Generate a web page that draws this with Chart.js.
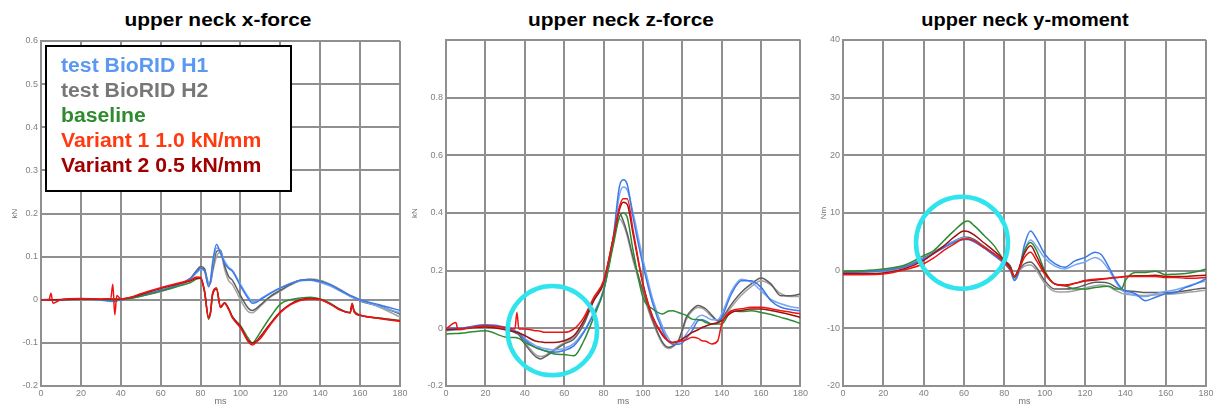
<!DOCTYPE html>
<html>
<head>
<meta charset="utf-8">
<title>upper neck loads</title>
<script src="https://cdn.jsdelivr.net/npm/chart.js@4.4.1/dist/chart.umd.min.js"></script>
<style>
    body { margin: 0; background: #fff; width: 1217px; height: 407px; overflow: hidden; font-family: 'Liberation Sans', Arial, sans-serif; }
    canvas { position: absolute; top: 0; }
    .title { position: absolute; top: 10px; font-weight: bold; font-size: 19px; line-height: 19px; white-space: nowrap; color: #000; transform: translateX(-50%) scaleX(1.1); }
    .legend-box { position: absolute; left: 45px; top: 45px; width: 247px; height: 147px; box-sizing: border-box; border: 2px solid #000; background: #fff; padding: 6px 0 0 14px; }
    .legend-box span { display: block; font-weight: bold; font-size: 20px; line-height: 25px; white-space: nowrap; transform: scaleX(1.06); transform-origin: left center; }
</style>
</head>
<body>
<div class="title" style="left:218px">upper neck x-force</div>
<div class="title" style="left:621px">upper neck z-force</div>
<div class="title" style="left:1025px; transform: translateX(-50%) scaleX(1.05)">upper neck y-moment</div>

<canvas id="xForceChart" width="410" height="407" style="left:0px"></canvas>
<canvas id="zForceChart" width="405" height="407" style="left:405px"></canvas>
<canvas id="yMomentChart" width="407" height="407" style="left:810px"></canvas>

<div class="legend-box" id="legendBox"></div>

<script>
// group names / colours
const groupNames = ['test BioRID H1', 'test BioRID H2', 'baseline', 'Variant 1 1.0 kN/mm', 'Variant 2 0.5 kN/mm'];
const groupColors = ['#5a98f2', '#777777', '#2e8b2e', '#ff3a10', '#a00000'];

// ---- upper neck x-force (kN) ----
const timeX = [0, 4, 5, 6, 10, 20, 30, 35, 36, 37, 38, 40, 45, 50, 60, 70, 75, 78, 80, 82, 84, 85, 86, 88, 90, 92, 94, 96, 100, 104, 106, 108, 110, 115, 120, 125, 130, 135, 140, 145, 150, 155, 156, 157, 160, 170, 180];
const xfH1a = [0, 0, 0, 0, 0, 0.002, 0, -0.003, -0.003, -0.003, -0.002, 0, 0.005, 0.01, 0.022, 0.038, 0.05, 0.065, 0.073, 0.068, 0.03, 0.045, 0.085, 0.128, 0.108, 0.085, 0.073, 0.066, 0.032, 0.002, -0.008, -0.006, 0, 0.015, 0.027, 0.037, 0.045, 0.046, 0.042, 0.035, 0.022, 0.01, 0.008, 0.006, 0, -0.012, -0.025];
const xfH1b = [0, 0.001, 0, 0, 0.001, 0.001, -0.001, -0.004, -0.004, -0.004, -0.003, -0.001, 0.004, 0.009, 0.021, 0.036, 0.048, 0.062, 0.07, 0.066, 0.034, 0.042, 0.078, 0.12, 0.112, 0.09, 0.076, 0.068, 0.036, 0.006, -0.004, -0.004, 0.002, 0.016, 0.028, 0.038, 0.044, 0.045, 0.04, 0.032, 0.02, 0.008, 0.006, 0.004, -0.002, -0.016, -0.03];
const xfH2a = [0, 0, 0, 0, 0, 0.001, 0, -0.002, -0.002, -0.002, -0.001, 0, 0.004, 0.009, 0.02, 0.036, 0.05, 0.068, 0.077, 0.072, 0.035, 0.04, 0.07, 0.112, 0.115, 0.08, 0.055, 0.045, 0.01, -0.02, -0.025, -0.02, -0.012, 0.008, 0.022, 0.035, 0.045, 0.047, 0.043, 0.034, 0.022, 0.008, 0.006, 0.004, -0.003, -0.015, -0.033];
const xfH2b = [0, 0, 0, 0, 0, 0.001, 0, -0.002, -0.002, -0.002, -0.001, 0, 0.003, 0.008, 0.019, 0.034, 0.048, 0.066, 0.075, 0.07, 0.04, 0.038, 0.062, 0.1, 0.11, 0.072, 0.045, 0.035, 0, -0.028, -0.03, -0.024, -0.015, 0.006, 0.02, 0.034, 0.044, 0.048, 0.045, 0.036, 0.024, 0.01, 0.008, 0.006, 0, -0.018, -0.04];
const xfBase = [0, 0, 0, 0, 0, 0.002, 0, 0, 0, 0, 0, 0, 0.003, 0.008, 0.02, 0.033, 0.04, 0.048, 0.05, 0.02, -0.045, -0.03, 0.01, 0.025, -0.018, -0.008, -0.02, -0.04, -0.06, -0.09, -0.1, -0.09, -0.075, -0.04, -0.01, 0, 0.004, 0.006, 0.002, -0.008, -0.022, -0.03, -0.01, -0.025, -0.035, -0.043, -0.048];
const xfVar1 = [0, 0, 0.015, -0.008, 0, 0.003, 0.002, 0.003, 0.036, -0.035, 0.01, 0.002, 0.006, 0.014, 0.028, 0.04, 0.046, 0.053, 0.052, 0.02, -0.043, -0.03, 0.015, 0.028, -0.018, -0.008, -0.022, -0.042, -0.065, -0.098, -0.105, -0.098, -0.09, -0.058, -0.03, -0.012, -0.002, 0.002, 0, -0.01, -0.024, -0.03, -0.008, -0.028, -0.036, -0.044, -0.05];
const xfVar2 = [0, 0, 0, 0, 0, 0.002, 0.001, 0.002, 0.002, 0.002, 0.002, 0.002, 0.005, 0.012, 0.026, 0.038, 0.044, 0.05, 0.05, 0.018, -0.04, -0.028, 0.012, 0.025, -0.016, -0.007, -0.02, -0.04, -0.062, -0.095, -0.1, -0.096, -0.085, -0.055, -0.028, -0.01, 0, 0.003, 0.001, -0.01, -0.023, -0.03, -0.012, -0.028, -0.036, -0.043, -0.049];

// ---- upper neck z-force (kN) ----
const timeZ = [0, 5, 6, 10, 20, 30, 35, 36, 37, 40, 45, 48, 50, 55, 60, 65, 70, 75, 80, 85, 88, 90, 92, 95, 100, 105, 110, 113, 115, 118, 120, 122, 125, 128, 130, 132, 135, 138, 140, 145, 150, 155, 160, 165, 170, 175, 180];
const zfH1a = [0, 0, 0, 0.003, 0.012, 0.004, -0.01, -0.013, -0.016, -0.04, -0.065, -0.074, -0.078, -0.083, -0.077, -0.06, -0.014, 0.05, 0.13, 0.32, 0.49, 0.515, 0.5, 0.385, 0.22, 0.085, -0.008, -0.045, -0.055, -0.055, -0.05, -0.035, -0.008, 0.027, 0.03, 0.025, 0.015, 0.02, 0.038, 0.12, 0.165, 0.165, 0.142, 0.096, 0.073, 0.065, 0.061];
const zfH1b = [-0.003, -0.002, -0.002, 0.002, 0.01, 0.003, -0.008, -0.011, -0.014, -0.035, -0.058, -0.066, -0.07, -0.075, -0.07, -0.052, -0.01, 0.055, 0.135, 0.31, 0.46, 0.49, 0.48, 0.4, 0.24, 0.1, 0.005, -0.035, -0.05, -0.05, -0.04, -0.02, 0.01, 0.04, 0.045, 0.04, 0.03, 0.03, 0.05, 0.13, 0.17, 0.16, 0.13, 0.1, 0.085, 0.075, 0.07];
const zfH2a = [-0.005, -0.003, -0.003, 0, 0.008, 0, -0.015, -0.018, -0.022, -0.054, -0.095, -0.106, -0.1, -0.077, -0.054, -0.037, 0.015, 0.096, 0.154, 0.3, 0.4, 0.373, 0.33, 0.246, 0.13, 0.027, -0.049, -0.066, -0.062, -0.043, -0.005, 0.038, 0.065, 0.079, 0.075, 0.067, 0.045, 0.027, 0.035, 0.084, 0.125, 0.154, 0.175, 0.154, 0.113, 0.113, 0.119];
const zfH2b = [-0.008, -0.006, -0.006, -0.002, 0.006, -0.002, -0.012, -0.015, -0.019, -0.048, -0.088, -0.098, -0.095, -0.072, -0.05, -0.03, 0.02, 0.1, 0.16, 0.31, 0.38, 0.36, 0.32, 0.235, 0.12, 0.02, -0.055, -0.07, -0.065, -0.045, -0.01, 0.03, 0.06, 0.072, 0.07, 0.06, 0.04, 0.025, 0.03, 0.075, 0.115, 0.145, 0.165, 0.15, 0.12, 0.11, 0.11];
const zfBase = [-0.02, -0.018, -0.018, -0.015, -0.008, -0.03, -0.032, -0.033, -0.035, -0.049, -0.065, -0.072, -0.077, -0.089, -0.091, -0.095, -0.043, 0.038, 0.13, 0.29, 0.385, 0.4, 0.385, 0.27, 0.107, 0.067, 0.05, 0.06, 0.061, 0.055, 0.05, 0.045, 0.032, 0.03, 0.027, 0.02, 0.015, 0.015, 0.015, 0.061, 0.058, 0.061, 0.055, 0.048, 0.038, 0.028, 0.017];
const zfVar1 = [-0.002, 0.02, -0.002, 0, 0.009, 0.003, -0.002, 0.055, -0.002, -0.002, -0.008, -0.01, -0.014, -0.014, -0.014, -0.002, 0.038, 0.107, 0.165, 0.315, 0.42, 0.449, 0.449, 0.34, 0.154, 0.038, -0.02, -0.045, -0.049, -0.045, -0.043, -0.04, -0.031, -0.035, -0.043, -0.045, -0.054, -0.043, 0.015, 0.061, 0.068, 0.073, 0.073, 0.068, 0.061, 0.056, 0.05];
const zfVar2 = [-0.005, -0.003, -0.003, 0, 0.005, -0.005, -0.012, -0.014, -0.016, -0.025, -0.043, -0.047, -0.049, -0.049, -0.043, -0.025, 0.027, 0.096, 0.16, 0.315, 0.41, 0.437, 0.43, 0.327, 0.154, 0.038, -0.025, -0.045, -0.049, -0.045, -0.037, -0.028, -0.014, -0.005, 0.003, 0.008, 0.015, 0.02, 0.027, 0.055, 0.062, 0.067, 0.067, 0.062, 0.055, 0.047, 0.038];

// ---- upper neck y-moment (Nm) ----
const timeM = [0, 10, 20, 30, 40, 45, 50, 55, 60, 62, 65, 70, 75, 80, 83, 85, 87, 90, 93, 96, 100, 105, 110, 115, 120, 125, 128, 132, 135, 138, 140, 145, 150, 155, 160, 165, 170, 175, 180];
const myH1a = [-0.3, -0.2, 0, 0.6, 2.0, 3.0, 4.0, 4.9, 5.4, 5.4, 5.0, 3.9, 2.6, 1.2, 0, -1.7, -0.5, 4.5, 6.9, 5.5, 2.9, 1.2, 0.6, 1.7, 2.3, 3.2, 2.8, 0.5, -1.5, -3.0, -3.5, -4.0, -5.2, -4.6, -4.0, -3.8, -2.9, -2.3, -1.4];
const myH1b = [-0.3, -0.2, 0.1, 0.7, 2.1, 3.1, 4.2, 5.1, 5.7, 5.6, 5.2, 4.0, 2.7, 1.3, 0.1, -1.5, -0.3, 3.5, 5.3, 4.2, 2.2, 0.8, 0.3, 1.0, 1.5, 2.3, 1.8, 0, -1.8, -3.3, -3.8, -4.3, -4.5, -4.0, -3.6, -3.3, -2.8, -2.2, -1.8];
const myH2a = [-0.3, -0.1, 0.1, 0.7, 2.2, 3.2, 4.2, 5.1, 5.8, 5.8, 5.4, 4.2, 2.9, 1.7, 0.8, -1.0, 0, 1.2, 1.5, 0.5, -1.7, -3.2, -3.2, -3.0, -2.5, -2.0, -2.0, -2.2, -2.8, -3.3, -3.5, -3.6, -3.8, -3.8, -3.8, -3.7, -3.5, -3.2, -3.0];
const myH2b = [-0.4, -0.2, 0, 0.6, 2.0, 3.0, 4.0, 4.9, 5.5, 5.5, 5.1, 4.0, 2.8, 1.5, 0.6, -1.2, -0.2, 0.8, 1.0, 0, -2.2, -3.6, -3.7, -3.5, -3.0, -2.6, -2.5, -2.8, -3.4, -3.9, -4.1, -4.2, -4.3, -4.2, -4.1, -4.0, -3.8, -3.6, -3.4];
const myBase = [-0.1, 0, 0.3, 0.9, 2.6, 3.5, 5.2, 6.9, 8.4, 8.6, 7.8, 6.1, 4.3, 1.7, 0.6, -1.2, 0, 3.5, 4.9, 3.5, 0, -2.3, -2.6, -3.2, -3.2, -2.9, -2.8, -2.7, -3.2, -3.2, -1.7, -0.3, -0.3, -0.1, -0.7, -0.6, -0.5, -0.2, 0.3];
const myVar1 = [-0.7, -0.7, -0.6, 0.1, 1.2, 2.2, 3.5, 4.6, 5.5, 5.5, 5.2, 4.0, 2.9, 1.4, 0.2, -1.0, 0, 2.3, 3.2, 1.7, -0.6, -2.3, -2.6, -2.2, -1.7, -1.5, -1.4, -1.3, -1.2, -1.1, -1.0, -1.0, -1.0, -1.0, -1.2, -1.2, -1.3, -1.3, -1.2];
const myVar2 = [-0.5, -0.5, -0.4, 0.3, 1.8, 3.0, 4.3, 5.8, 6.9, 6.8, 6.2, 4.8, 3.4, 1.8, 0.5, -1.0, 0.2, 3.0, 4.3, 2.5, -0.3, -2.3, -2.5, -2.2, -1.8, -1.6, -1.5, -1.3, -1.2, -1.1, -1.0, -0.9, -0.9, -0.8, -1.0, -1.0, -1.0, -0.9, -0.8];

// highlighted regions (centre time, centre value, radius in ms)
const zForceCircle = { t: 54, v: -0.008, rt: 22.7 };
const yMomentCircle = { t: 59, v: 4.85, rt: 22.8 };

const lineColors = {
    h1: '#3b7ae6', h1b: '#78a6f2',
    h2: '#5e5e5e', h2b: '#a3a3a3',
    base: '#2e8a33', var1: '#ee1414', var2: '#a01010'
};

document.addEventListener('DOMContentLoaded', function () {
    buildLegend();

    makePanel('xForceChart', timeX,
        [xfVar1, xfVar2, xfBase, xfH1a, xfH1b, xfH2a, xfH2b],
        { min: -0.2, max: 0.6, step: 0.1, unit: 'kN', axisWidth: 41, titlePad: 10, right: 10, top: 41 }, []);

    makePanel('zForceChart', timeZ,
        [zfVar1, zfVar2, zfBase, zfH1a, zfH1b, zfH2a, zfH2b],
        { min: -0.2, max: 1.0, step: 0.2, unit: 'kN', axisWidth: 41, titlePad: 5, right: 7, top: 40, hideMax: true }, [zForceCircle]);

    makePanel('yMomentChart', timeM,
        [myVar1, myVar2, myBase, myH1a, myH1b, myH2a, myH2b],
        { min: -20, max: 40, step: 10, unit: 'Nm', axisWidth: 33, titlePad: 9, right: 11, top: 40 }, [yMomentCircle]);
});

function buildLegend() {
    const box = document.getElementById('legendBox');
    groupNames.forEach((name, i) => {
        const span = document.createElement('span');
        span.textContent = name;
        span.style.color = groupColors[i];
        box.appendChild(span);
    });
}

const circlePlugin = {
    id: 'circles',
    afterDatasetsDraw(chart, args, opts) {
        const marks = opts.marks || [];
        const ctx = chart.ctx;
        const xs = chart.scales.x;
        const ys = chart.scales.y;
        marks.forEach(m => {
            const cx = xs.getPixelForValue(m.t);
            const cy = ys.getPixelForValue(m.v);
            const r = xs.getPixelForValue(m.t + m.rt) - cx;
            ctx.save();
            ctx.strokeStyle = '#2fe4ec';
            ctx.lineWidth = 4.5;
            ctx.beginPath();
            ctx.arc(cx, cy, r, 0, Math.PI * 2);
            ctx.stroke();
            ctx.restore();
        });
    }
};

function makePanel(canvasId, times, series, axis, marks) {
    const canvas = document.getElementById(canvasId);
    if (!canvas || typeof Chart === 'undefined') return;

    // order: var1, var2, base, h1a, h1b, h2a, h2b (first drawn on top)
    const colors = [lineColors.var1, lineColors.var2, lineColors.base, lineColors.h1, lineColors.h1b, lineColors.h2, lineColors.h2b];

    const datasets = series.map((values, i) => ({
        data: values.map((v, k) => ({ x: times[k], y: v })),
        borderColor: colors[i],
        borderWidth: 1.5,
        pointRadius: 0,
        fill: false,
        cubicInterpolationMode: 'monotone'
    }));

    const gridColor = '#8f8f8f';
    const tickFont = { family: "'Liberation Sans', Arial, sans-serif", size: 9 };

    new Chart(canvas.getContext('2d'), {
        type: 'line',
        data: { datasets: datasets },
        options: {
            responsive: false,
            animation: false,
            layout: { padding: { top: axis.top, right: axis.right, bottom: 0, left: 0 } },
            plugins: {
                legend: { display: false },
                tooltip: { enabled: false },
                circles: { marks: marks }
            },
            scales: {
                x: {
                    type: 'linear',
                    min: 0,
                    max: 180,
                    ticks: { stepSize: 20, color: '#808080', font: tickFont, padding: 2, maxRotation: 0 },
                    grid: { color: gridColor, lineWidth: 2, drawTicks: false },
                    border: { color: gridColor, width: 2 },
                    title: { display: true, text: 'ms', color: '#707070', font: tickFont, padding: 0 },
                    afterFit: function (scale) { scale.height = 21; }
                },
                y: {
                    min: axis.min,
                    max: axis.max,
                    ticks: {
                        stepSize: axis.step,
                        color: '#808080',
                        font: tickFont,
                        padding: 3,
                        callback: function (v) {
                            if (axis.hideMax && Math.abs(v - axis.max) < 1e-9) return '';
                            return String(Math.round(v * 10) / 10);
                        }
                    },
                    grid: { color: gridColor, lineWidth: 2, drawTicks: false },
                    border: { color: gridColor, width: 2 },
                    title: { display: true, text: axis.unit, color: '#707070', font: { family: tickFont.family, size: 8 }, padding: { top: axis.titlePad, bottom: 0 } },
                    afterFit: function (scale) { scale.width = axis.axisWidth; }
                }
            }
        },
        plugins: [circlePlugin]
    });
}
</script>
</body>
</html>
